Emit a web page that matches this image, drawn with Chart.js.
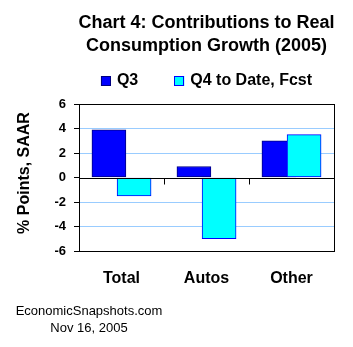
<!DOCTYPE html>
<html><head><meta charset="utf-8">
<script src="https://cdn.jsdelivr.net/npm/chart.js@4"></script>
<style>html,body{margin:0;padding:0;background:#fff}#wrap{width:353px;height:347px}</style>
</head><body><div id="wrap"><canvas id="c" width="353" height="347"></canvas></div>
<script>
const categories = ['Total', 'Autos', 'Other'];
const q3Values = [3.9, 0.9, 3.0];
const q4Values = [-1.5, -5.0, 3.5];
const seriesNames = ['Q3', 'Q4 to Date, Fcst'];
const yTickValues = [-6, -4, -2, 0, 2, 4, 6];
const titleLines = ['Chart 4: Contributions to Real', 'Consumption Growth (2005)'];
const yAxisTitle = '% Points, SAAR';
const footerLines = ['EconomicSnapshots.com', 'Nov 16, 2005'];

const FONT = '"Liberation Sans", Arial, sans-serif';
const GROUP_SHIFT = 0.148; // overlapping Excel-style bars: half distance between bar centres, in category units

const decorations = {
  id: 'decorations',
  afterDatasetsDraw(chart) {
    const ctx = chart.ctx, a = chart.chartArea;
    const x = chart.scales.x, y = chart.scales.y;
    ctx.save();
    ctx.strokeStyle = '#000'; ctx.lineWidth = 1;
    const y0 = Math.round(y.getPixelForValue(0)) + 0.5;
    ctx.beginPath(); ctx.moveTo(a.left, y0); ctx.lineTo(a.right, y0); ctx.stroke();
    for (let i = 0; i < categories.length - 1; i++) {
      const bx = Math.round(x.getPixelForValue(i + 0.5)) + 0.5;
      ctx.beginPath(); ctx.moveTo(bx, y0); ctx.lineTo(bx, y0 + 6); ctx.stroke();
    }
    ctx.strokeRect(Math.round(a.left) + 0.5, Math.round(a.top) + 0.5, Math.round(a.right - a.left), Math.round(a.bottom - a.top));
    ctx.restore();
  },
  afterDraw(chart) {
    const ctx = chart.ctx, a = chart.chartArea;
    const cx = (a.left + a.right) / 2;
    ctx.save();
    ctx.fillStyle = '#000';
    ctx.font = 'bold 18px ' + FONT;
    ctx.textAlign = 'center'; ctx.textBaseline = 'middle';
    titleLines.forEach((t, i) => ctx.fillText(t, cx, 23 + i * 23));
    ctx.font = 'bold 16px ' + FONT;
    const ds = chart.data.datasets;
    const box = 10, gapText = 6, gapItem = 36;
    const widths = ds.map(d => box + gapText + ctx.measureText(d.label).width);
    const total = widths.reduce((s, w) => s + w, 0) + gapItem * (ds.length - 1);
    let lx = cx - total / 2;
    const ly = 81;
    ds.forEach((d, i) => {
      ctx.fillStyle = d.backgroundColor;
      ctx.fillRect(lx, ly - box / 2, box, box);
      ctx.strokeStyle = d.borderColor; ctx.lineWidth = 1;
      ctx.strokeRect(Math.round(lx) + 0.5, Math.round(ly - box / 2) + 0.5, box - 1, box - 1);
      ctx.fillStyle = '#000'; ctx.textAlign = 'left';
      ctx.fillText(d.label, lx + box + gapText, ly);
      lx += widths[i] + gapItem;
    });
    ctx.save();
    ctx.translate(25, 173);
    ctx.rotate(-Math.PI / 2);
    ctx.font = 'bold 16px ' + FONT;
    ctx.textAlign = 'center'; ctx.textBaseline = 'middle';
    ctx.fillText(yAxisTitle, 0, 0);
    ctx.restore();
    ctx.font = '13px ' + FONT;
    ctx.textAlign = 'center'; ctx.textBaseline = 'middle';
    footerLines.forEach((t, i) => ctx.fillText(t, 89, 311 + i * 17));
    ctx.restore();
  }
};

new Chart(document.getElementById('c'), {
  type: 'bar',
  data: {
    datasets: [
      { label: seriesNames[0], data: q3Values.map((v, i) => ({ x: i - GROUP_SHIFT, y: v })), order: 1,
        backgroundColor: '#0000FF', borderColor: '#000080', borderWidth: 1, borderSkipped: false },
      { label: seriesNames[1], data: q4Values.map((v, i) => ({ x: i + GROUP_SHIFT, y: v })), order: 0,
        backgroundColor: '#00FFFF', borderColor: '#0000FF', borderWidth: 1, borderSkipped: false }
    ]
  },
  options: {
    responsive: false,
    animation: false,
    devicePixelRatio: 1,
    datasets: { bar: { grouped: false, barThickness: 34 } },
    layout: { padding: { top: 104, right: 19, bottom: 0, left: 0 } },
    plugins: { legend: { display: false }, title: { display: false }, tooltip: { enabled: false } },
    scales: {
      x: {
        type: 'linear',
        offset: false,
        grace: 0,
        min: -0.5, max: categories.length - 0.5,
        afterBuildTicks(s) { s.ticks = categories.map((c, i) => ({ value: i })); },
        grid: { display: false },
        border: { display: false },
        ticks: { color: '#000', font: { family: FONT, size: 16, weight: 'bold' }, padding: 10, maxRotation: 0,
                 callback: v => categories[v] },
        afterFit(s) { s.height = 96; }
      },
      y: {
        min: -6, max: 6,
        afterBuildTicks(s) { s.ticks = yTickValues.map(v => ({ value: v })); },
        grid: {
          color: c => (c.tick && (c.tick.value === 0 || Math.abs(c.tick.value) === 6)) ? 'rgba(0,0,0,0)' : '#99CCFF',
          tickColor: '#000', tickLength: 5, drawTicks: true
        },
        border: { display: false },
        ticks: { color: '#000', font: { family: FONT, size: 13, weight: 'bold' }, padding: 8 },
        afterFit(s) { s.width = 79; }
      }
    }
  },
  plugins: [decorations]
});
</script>
</body></html>
